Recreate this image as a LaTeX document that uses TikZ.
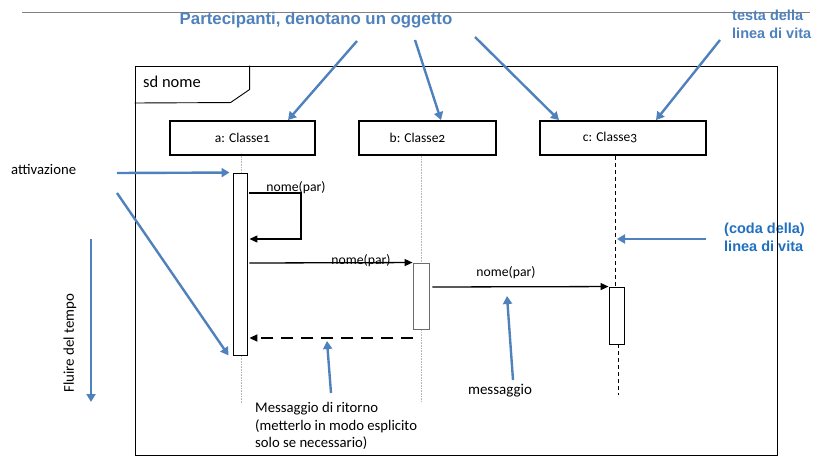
\documentclass[tikz,border=0pt]{standalone}
\usepackage{fontspec}
\setmainfont{Carlito}[Numbers=OldStyle]
\newfontfamily\notefont{Liberation Sans}
\usetikzlibrary{arrows.meta,positioning}
\definecolor{noteblue}{RGB}{79,129,189}
\definecolor{codablue}{RGB}{31,112,192}
\begin{document}
\begin{tikzpicture}[x=1pt,y=-1pt,
  objbox/.style={draw, line width=1.8pt, minimum height=34pt, inner sep=0pt},
  actbox/.style={draw, fill=white, line width=0.9pt, minimum width=14pt, inner sep=0pt},
  lifeline/.style={gray!55, line width=0.5pt, dash pattern=on 1pt off 0.6pt},
  msg/.style={-{Triangle[length=8pt,width=7pt]}, line width=1.3pt},
  ret/.style={-{Triangle[length=8pt,width=7pt]}, line width=2.6pt, dash pattern=on 12pt off 8pt},
  note/.style={-{Triangle[length=8pt,width=9pt]}, noteblue, line width=2.4pt},
  msglabel/.style={font=\fontsize{13.7}{15}\selectfont, inner sep=0pt},
  bluetext/.style={font=\notefont\bfseries\fontsize{14.5}{18}\selectfont, align=left, inner sep=0pt}
  ]
  \useasboundingbox (0,0) rectangle (819,462);
  \draw[gray, line width=1pt] (22,13) -- (810,13);
  \node[font=\notefont\bfseries\fontsize{16.8}{20}\selectfont, noteblue, inner sep=0pt] (part) at (316,20) {Partecipanti, denotano un oggetto};
  \node[bluetext, noteblue, anchor=west] (testa) at (732,24) {testa della\\linea di vita};
  \node[bluetext, codablue, anchor=west] (coda) at (724,237) {(coda della)\\linea di vita};
  \node[draw, line width=0.9pt, minimum width=642pt, minimum height=389pt, inner sep=0pt] (frame) at (456,260.5) {};
  \draw[line width=0.9pt] (frame.north west) ++(115,0) -- ++(0,24) -- ++(-19,13) -- (frame.west |- 0,103);
  \node[font=\fontsize{16.5}{18}\selectfont, anchor=west, inner sep=0pt] (sd) at (143,82) {sd nome};
  \node[objbox, minimum width=145pt] (obja) at (242.5,138) {};
  \node[objbox, minimum width=137pt] (objb) at (427.5,138) {};
  \node[objbox, minimum width=166pt] (objc) at (623,138) {};
  \node[font=\fontsize{13.5}{15}\selectfont] at (obja) {a: Classe1};
  \node[font=\fontsize{13.5}{15}\selectfont] at ([xshift=-10pt]objb.center) {b: Classe2};
  \node[font=\fontsize{13.5}{15}\selectfont] at ([xshift=-13pt]objc.center) {c: Classe3};
  \coordinate (enda) at (241,403);
  \coordinate (endb) at (421,401);
  \coordinate (endc) at (618.5,395);
  \draw[lifeline] (obja.south -| enda) -- (enda);
  \draw[lifeline] (objb.south -| endb) -- (endb);
  \node[actbox, minimum height=182pt] (acta) at (240,264) {};
  \node[actbox, draw=gray!85!black, minimum width=16pt, minimum height=66pt] (actb) at (421,296) {};
  \node[actbox, minimum width=15pt, minimum height=57pt] (actc) at (616.5,315.5) {};
  \draw[line width=1pt, dash pattern=on 4pt off 3pt] (objc.south -| 615,0) -- (actc.north -| 615,0);
  \draw[line width=1pt, dash pattern=on 4pt off 3pt] (actc.south -| endc) -- (endc);
  \node[msglabel] (m1) at (296,188) {nome(par)};
  \node[msglabel] (m2) at (361,261) {nome(par)};
  \node[msglabel] (m3) at (506,273) {nome(par)};
  \draw[msg] ([xshift=2pt]acta.east |- 0,193) -| (301,239) -- ([xshift=2pt]acta.east |- 0,239);
  \draw[msg] ([xshift=2pt]acta.east |- 0,263) -- (actb.north west);
  \draw[msg] ([xshift=3pt]actb.east |- 0,287) -- (actc.north west);
  \draw[ret] (actb.west |- 0,338) -- ([xshift=2pt]acta.east |- 0,338);
  \node[font=\fontsize{14.7}{17}\selectfont, anchor=west, inner sep=0pt] (attiv) at (11,169) {attivazione};
  \node[font=\fontsize{14.9}{17}\selectfont, rotate=90, inner sep=0pt] (fluire) at (70,343) {Fluire del tempo};
  \node[font=\fontsize{14.7}{17.6}\selectfont, anchor=north west, align=left, inner sep=0pt] (ritorno) at (255,402) {Messaggio di ritorno\\(metterlo in modo esplicito\\solo se necessario)};
  \node[font=\fontsize{15}{17}\selectfont, inner sep=0pt] (messaggio) at (500,391) {messaggio};
  \coordinate (p1) at (357,41);
  \coordinate (p2) at (415,40);
  \coordinate (p3) at (475,37);
  \coordinate (t1) at (720,40);
  \coordinate (a1) at (117,173);
  \coordinate (a2) at (117,193);
  \coordinate (f1) at (91,239);
  \coordinate (f2) at (91,402);
  \coordinate (r1) at (331,393);
  \coordinate (s1) at (513,380);
  \coordinate (c1) at (706,239);
  \draw[note] (p1) -- (obja.north -| 288,0);
  \draw[note] (p2) -- (objb.north -| 441,0);
  \draw[note] (p3) -- (objc.north -| 559,0);
  \draw[note] (t1) -- (objc.north -| 656,0);
  \draw[note] (a1) -- ([xshift=-3pt]acta.north west);
  \draw[note] (a2) -- ([xshift=-4pt]acta.south west);
  \draw[note] (f1) -- (f2);
  \draw[note] (r1) -- (327,341);
  \draw[note] (s1) -- (507,296);
  \draw[note] (c1) -- (617,239);
\end{tikzpicture}
\end{document}
